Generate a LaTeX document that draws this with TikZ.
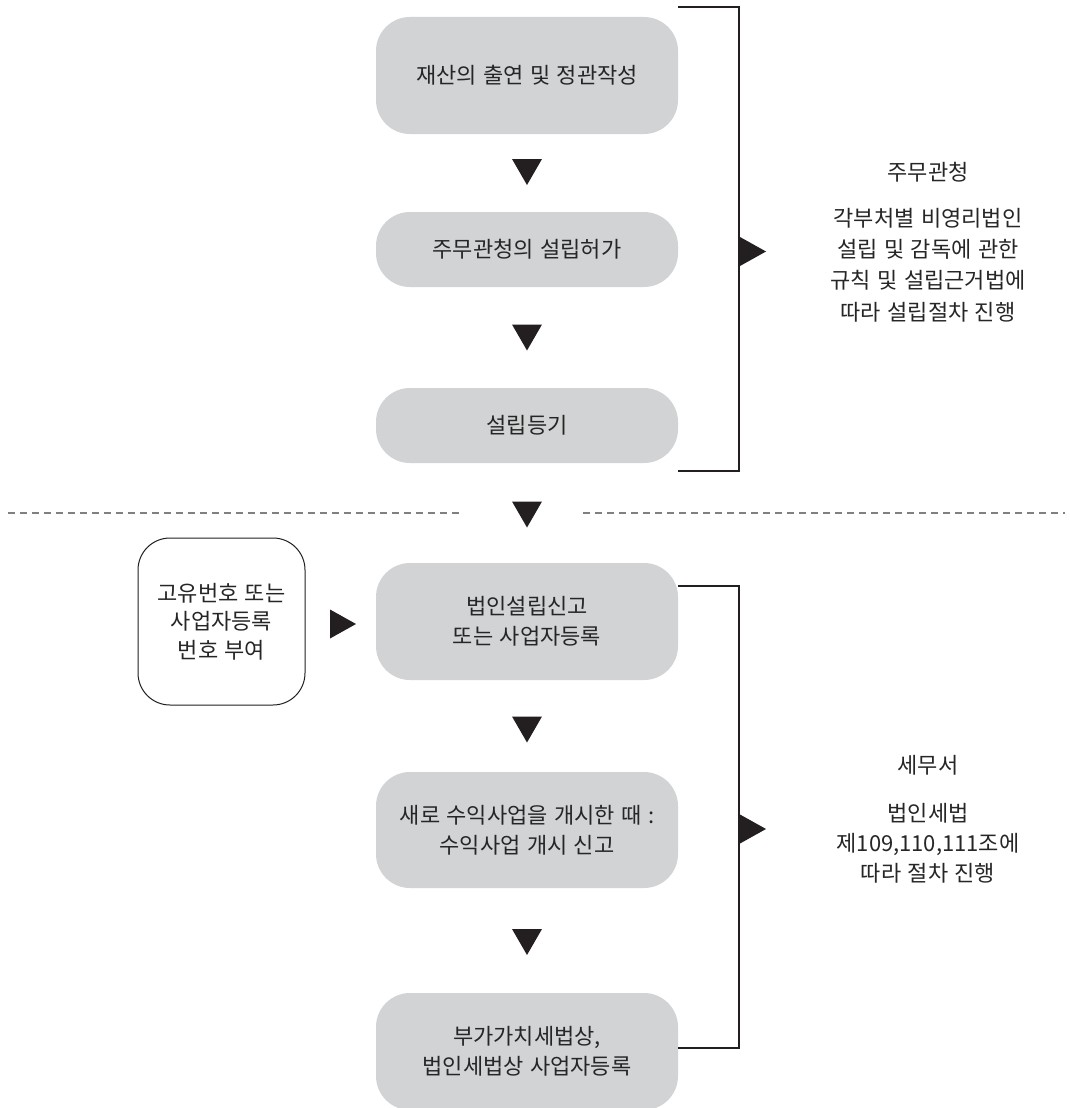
\documentclass[tikz,border=0pt]{standalone}
\usepackage{fontspec}
\setmainfont{Noto Sans CJK KR}[WordSpace=1.3]
\usetikzlibrary{calc}
\definecolor{boxgray}{HTML}{D1D3D4}
\definecolor{ink}{HTML}{231F20}
\definecolor{txt}{HTML}{262626}
\definecolor{dashgray}{HTML}{808080}
\tikzset{
  stepbox/.style={fill=boxgray, rounded corners=34pt, minimum width=302pt, inner sep=0pt,
    align=center, text=txt, font=\fontsize{22}{30}\selectfont},
  idbox/.style={draw=ink, line width=1pt, rounded corners=32pt, minimum width=167pt,
    minimum height=167pt, inner sep=0pt, align=center, text=txt, font=\fontsize{22}{28.5}\selectfont},
  note/.style={align=center, text=txt, inner sep=0pt, font=\fontsize{22}{30}\selectfont},
  bracketline/.style={draw=ink, line width=2.3pt, line join=miter},
  dashline/.style={draw=dashgray, line width=2pt, dash pattern=on 7pt off 5pt},
  downtri/.pic={\fill[ink] (-15,-13) -- (15,-13) -- (0,13) -- cycle;},
  righttri/.pic={\fill[ink] (-13,-14.5) -- (13,0) -- (-13,14.5) -- cycle;}
}
\begin{document}
\begin{tikzpicture}[x=1pt,y=-1pt]
\useasboundingbox (0,0) rectangle (1069,1108);
\fill[white] (0,0) rectangle (1069,1108);

% main flow boxes
\node[stepbox, minimum height=117pt] (b1) at (527,75.5) {재산의 출연 및 정관작성};
\node[stepbox, minimum height=75pt] (b2) at (527,249.5) {주무관청의 설립허가};
\node[stepbox, minimum height=75pt] (b3) at (527,425.5) {설립등기};
\node[stepbox, minimum height=117pt] (b4) at (527,621.5) {법인설립신고\\또는 사업자등록};
\node[stepbox, minimum height=116pt] (b5) at (527,830) {새로 수익사업을 개시한 때 :\\수익사업 개시 신고};
\node[stepbox, minimum height=117pt] (b6) at (527,1051.5) {부가가치세법상,\\법인세법상 사업자등록};

% side box
\node[idbox] (w) at (221.5,621.5) {고유번호 또는\\사업자등록\\번호 부여};

% down triangles
\pic at (527,172) {downtri};
\pic at (527,337.5) {downtri};
\pic at (527,514.5) {downtri};
\pic at (527,729.5) {downtri};
\pic at (527,942) {downtri};

% right triangles
\pic at (753,251.5) {righttri};
\pic at (343,624) {righttri};
\pic at (753,829) {righttri};

% dashed separator
\coordinate (d1a) at (8,513);
\coordinate (d1b) at (462,513);
\coordinate (d2a) at (583,513);
\coordinate (d2b) at (1065,513);
\draw[dashline] (d1a) -- (d1b);
\draw[dashline] (d2a) -- (d2b);

% brackets
\coordinate (k1t) at (678,7);
\coordinate (k1b) at (678,471);
\coordinate (k2t) at (678,586);
\coordinate (k2b) at (678,1048);
\draw[bracketline] (k1t) -- ++(61,0) |- (k1b);
\draw[bracketline] (k2t) -- ++(61,0) |- (k2b);

% right-hand notes
\node[note] (h1) at (928,172) {주무관청};
\node[note, font=\fontsize{22}{31.3}\selectfont] (t1) at (928,265) {각부처별 비영리법인\\설립 및 감독에 관한\\규칙 및 설립근거법에\\따라 설립절차 진행};
\node[note] (h2) at (928,765) {세무서};
\node[note] (t2) at (928,843) {법인세법\\제109,110,111조에\\따라 절차 진행};
\end{tikzpicture}
\end{document}
